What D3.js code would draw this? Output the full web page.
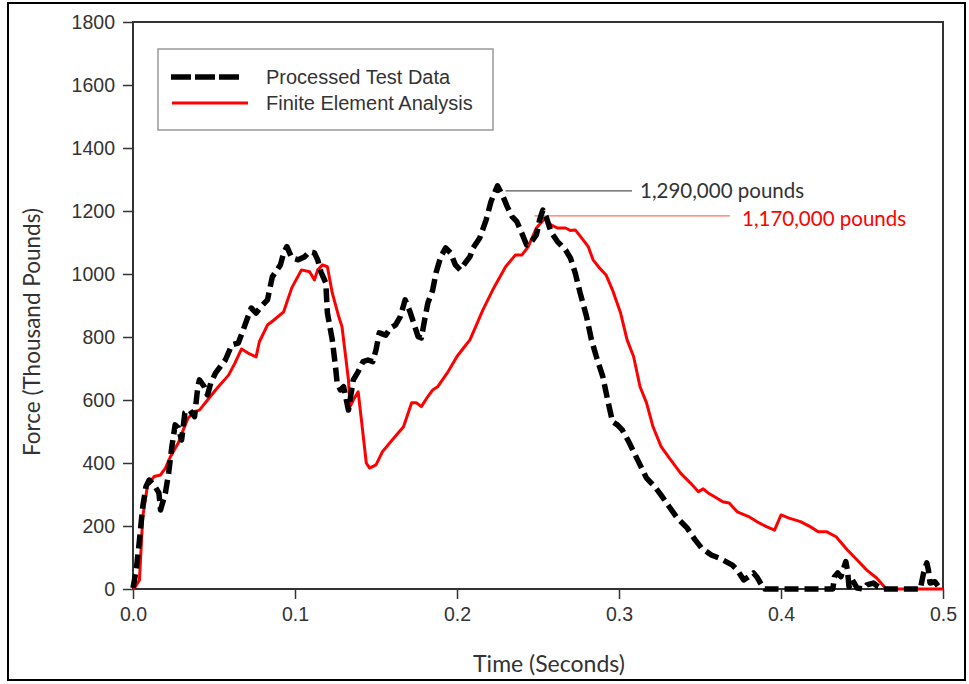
<!DOCTYPE html>
<html>
<head>
<meta charset="utf-8">
<script src="https://cdn.jsdelivr.net/npm/d3@7"></script>
<style>
  html, body { margin: 0; padding: 0; background: #fff; }
  svg { display: block; }
</style>
</head>
<body>
<div id="chart"></div>
<script>
// Test data (time in s, force in thousand pounds)
const testTime = [0.000, 0.002, 0.004, 0.006, 0.008, 0.010, 0.013, 0.016, 0.017, 0.020, 0.022, 0.024, 0.026, 0.028, 0.030,
  0.032, 0.035, 0.038, 0.040, 0.041, 0.044, 0.046, 0.048, 0.051, 0.057, 0.061, 0.065, 0.068, 0.071, 0.073, 0.076, 0.079,
  0.083, 0.086, 0.091, 0.093, 0.095, 0.098, 0.102, 0.106, 0.109, 0.112, 0.114, 0.116, 0.119, 0.120, 0.123, 0.125, 0.126,
  0.128, 0.130, 0.133, 0.136, 0.139, 0.142, 0.145, 0.148, 0.150, 0.152, 0.156, 0.159, 0.162, 0.165, 0.168, 0.171, 0.174,
  0.176, 0.178, 0.180, 0.182, 0.185, 0.187, 0.190, 0.193, 0.196, 0.199, 0.202, 0.205, 0.208, 0.210, 0.214, 0.218, 0.221,
  0.225, 0.228, 0.231, 0.234, 0.237, 0.240, 0.243, 0.246, 0.249, 0.251, 0.253, 0.255, 0.258, 0.262, 0.267, 0.270, 0.273,
  0.276, 0.280, 0.283, 0.286, 0.290, 0.293, 0.296, 0.299, 0.302, 0.306, 0.309, 0.313, 0.317, 0.322, 0.326, 0.331, 0.336,
  0.342, 0.347, 0.351, 0.357, 0.362, 0.366, 0.370, 0.373, 0.377, 0.380, 0.383, 0.385, 0.388, 0.390, 0.432, 0.433, 0.435,
  0.437, 0.440, 0.441, 0.442, 0.444, 0.447, 0.451, 0.453, 0.457, 0.460, 0.463, 0.486, 0.488, 0.490, 0.491, 0.492, 0.495, 0.498];
const testForce = [3, 60, 156, 261, 325, 346, 330, 305, 251, 305, 368, 452, 521, 511, 473,
  559, 568, 547, 642, 664, 642, 616, 654, 686, 727, 775, 781, 822, 865, 892, 876, 896,
  918, 991, 1029, 1067, 1087, 1051, 1045, 1055, 1071, 1067, 1045, 1007, 972, 876, 791, 706, 654,
  632, 642, 568, 664, 690, 722, 727, 722, 759, 813, 806, 829, 838, 865, 918, 880, 833,
  801, 797, 854, 908, 949, 1003, 1055, 1083, 1067, 1029, 1013, 1035, 1055, 1083, 1114, 1172, 1230,
  1280, 1251, 1214, 1182, 1166, 1130, 1092, 1103, 1124, 1172, 1203, 1182, 1134, 1103, 1076, 1051, 1003,
  940, 864, 791, 738, 674, 600, 531, 521, 505, 468, 436, 394, 352, 325, 298, 261, 225,
  194, 156, 130, 108, 98, 87, 76, 60, 29, 39, 51, 39, 13, 0, 0, 39, 51,
  39, 87, 60, 7, 29, 3, 0, 13, 19, 7, 0, 0, 51, 83, 60, 19, 23, 3];

// Finite element analysis
const feaTime = [0.000, 0.001, 0.004, 0.006, 0.009, 0.013, 0.017, 0.020, 0.023, 0.028, 0.031, 0.034, 0.038, 0.041, 0.046,
  0.052, 0.059, 0.063, 0.067, 0.071, 0.076, 0.078, 0.083, 0.087, 0.093, 0.098, 0.104, 0.109, 0.112, 0.114, 0.117, 0.120,
  0.123, 0.127, 0.129, 0.131, 0.133, 0.134, 0.136, 0.139, 0.141, 0.144, 0.146, 0.150, 0.154, 0.160, 0.167, 0.172, 0.175,
  0.178, 0.182, 0.185, 0.188, 0.191, 0.194, 0.200, 0.204, 0.208, 0.216, 0.222, 0.230, 0.236, 0.240, 0.244, 0.249, 0.254,
  0.258, 0.262, 0.267, 0.270, 0.273, 0.277, 0.281, 0.284, 0.288, 0.292, 0.296, 0.301, 0.305, 0.309, 0.313, 0.317, 0.321,
  0.326, 0.331, 0.338, 0.344, 0.349, 0.352, 0.355, 0.359, 0.364, 0.368, 0.373, 0.380, 0.385, 0.391, 0.396, 0.400, 0.405,
  0.412, 0.418, 0.423, 0.428, 0.434, 0.441, 0.447, 0.453, 0.459, 0.465, 0.500];
const feaForce = [0, 3, 29, 229, 330, 357, 362, 384, 419, 464, 505, 543, 563, 568, 600,
  638, 679, 718, 762, 749, 737, 785, 838, 854, 880, 956, 1013, 1007, 981, 1013, 1029, 1023,
  940, 865, 833, 749, 664, 579, 600, 626, 537, 400, 384, 394, 436, 473, 515, 591, 591,
  579, 611, 632, 642, 664, 686, 738, 765, 791, 886, 949, 1023, 1060, 1060, 1087, 1146, 1175,
  1156, 1146, 1146, 1138, 1140, 1114, 1087, 1045, 1019, 997, 949, 876, 791, 738, 642, 591, 515,
  452, 416, 368, 337, 309, 318, 305, 293, 277, 273, 245, 230, 214, 198, 187, 235, 225,
  214, 198, 182, 182, 166, 124, 92, 60, 35, 0, 0];

const xTicks = [0.0, 0.1, 0.2, 0.3, 0.4, 0.5];
const yTicks = [0, 200, 400, 600, 800, 1000, 1200, 1400, 1600, 1800];
const seriesNames = ["Processed Test Data", "Finite Element Analysis"];
const peakLabels = ["1,290,000 pounds", "1,170,000 pounds"];

const W = 969, H = 684;
const margin = { left: 133, top: 22, right: 26, bottom: 95 };
const iw = W - margin.left - margin.right;
const ih = H - margin.top - margin.bottom;

const svg = d3.select("#chart").append("svg")
    .attr("width", W)
    .attr("height", H);

// outer frame of the figure
svg.append("rect")
    .attr("x", 8).attr("y", 3)
    .attr("width", 957).attr("height", 677)
    .attr("fill", "none")
    .attr("stroke", "#000")
    .attr("stroke-width", 2);

const g = svg.append("g").attr("transform", `translate(${margin.left},${margin.top})`);

const x = d3.scaleLinear().domain([0, 0.5]).range([0, iw]);
const y = d3.scaleLinear().domain([0, 1800]).range([ih, 0]);

// axes
const xAxis = g.append("g")
    .attr("transform", `translate(0,${ih})`)
    .call(d3.axisBottom(x).tickValues(xTicks).tickFormat(d3.format(".1f")).tickSize(10).tickPadding(8));
const yAxis = g.append("g")
    .call(d3.axisLeft(y).tickValues(yTicks).tickFormat(d3.format("d")).tickSize(10).tickPadding(8));

[xAxis, yAxis].forEach(a => {
    a.select(".domain").remove();
    a.selectAll(".tick line").attr("stroke", "#333").attr("stroke-width", 1.5);
    a.selectAll(".tick text")
        .attr("fill", "#333")
        .style("font-family", "'Liberation Sans', Arial, sans-serif")
        .style("font-size", "19.5px");
});

// plot box
g.append("rect")
    .attr("width", iw).attr("height", ih)
    .attr("fill", "none")
    .attr("stroke", "#333")
    .attr("stroke-width", 2);

const line = (ts, fs) => d3.line()
    .x((d, i) => x(ts[i]))
    .y(d => y(d))(fs);

// peak callouts
const testPeak = d3.maxIndex(testForce);
const feaPeak = d3.maxIndex(feaForce);

g.append("line")
    .attr("x1", x(testTime[testPeak]) + 8).attr("x2", 499)
    .attr("y1", y(testForce[testPeak]) + 5).attr("y2", y(testForce[testPeak]) + 5)
    .attr("stroke", "#555").attr("stroke-width", 1.2);
g.append("text")
    .attr("x", 507).attr("y", y(testForce[testPeak]) + 12)
    .attr("fill", "#333")
    .style("font-family", "Lato, 'Open Sans', sans-serif")
    .style("font-size", "20.5px")
    .text(peakLabels[0]);

g.append("line")
    .attr("x1", x(feaTime[feaPeak]) - 10).attr("x2", 597)
    .attr("y1", y(feaForce[feaPeak]) - 3).attr("y2", y(feaForce[feaPeak]) - 3)
    .attr("stroke", "#ff7060").attr("stroke-width", 1.2);
g.append("text")
    .attr("x", 609).attr("y", y(feaForce[feaPeak]) + 7)
    .attr("fill", "#ff0000")
    .style("font-family", "Lato, 'Open Sans', sans-serif")
    .style("font-size", "20.5px")
    .text(peakLabels[1]);

// curves
g.append("path")
    .attr("d", line(feaTime, feaForce))
    .attr("fill", "none")
    .attr("stroke", "#ff0000")
    .attr("stroke-width", 3)
    .attr("stroke-linejoin", "round");

g.append("path")
    .attr("d", line(testTime, testForce))
    .attr("fill", "none")
    .attr("stroke", "#000")
    .attr("stroke-width", 5.5)
    .attr("stroke-dasharray", "14,6")
    .attr("stroke-linejoin", "round");

// legend
const lg = g.append("g").attr("transform", "translate(25,27)");
lg.append("rect")
    .attr("width", 335).attr("height", 81)
    .attr("fill", "#fff")
    .attr("stroke", "#999")
    .attr("stroke-width", 1.5);
lg.append("line")
    .attr("x1", 13).attr("x2", 83).attr("y1", 28).attr("y2", 28)
    .attr("stroke", "#000").attr("stroke-width", 5.5)
    .attr("stroke-dasharray", "20,4");
lg.append("line")
    .attr("x1", 14).attr("x2", 90).attr("y1", 54).attr("y2", 54)
    .attr("stroke", "#ff0000").attr("stroke-width", 3);
lg.selectAll("text.lab")
    .data(seriesNames)
    .enter().append("text")
    .attr("class", "lab")
    .attr("x", 108)
    .attr("y", (d, i) => 35 + i * 26)
    .attr("fill", "#333")
    .style("font-family", "'Liberation Sans', Arial, sans-serif")
    .style("font-size", "20px")
    .text(d => d);

// axis titles
svg.append("text")
    .attr("x", 549).attr("y", 672)
    .attr("text-anchor", "middle")
    .attr("fill", "#333")
    .style("font-family", "Lato, 'Open Sans', sans-serif")
    .style("font-size", "23px")
    .text("Time (Seconds)");

svg.append("text")
    .attr("transform", "translate(40,332) rotate(-90)")
    .attr("text-anchor", "middle")
    .attr("fill", "#333")
    .style("font-family", "Lato, 'Open Sans', sans-serif")
    .style("font-size", "22.5px")
    .text("Force (Thousand Pounds)");
</script>
</body>
</html>
